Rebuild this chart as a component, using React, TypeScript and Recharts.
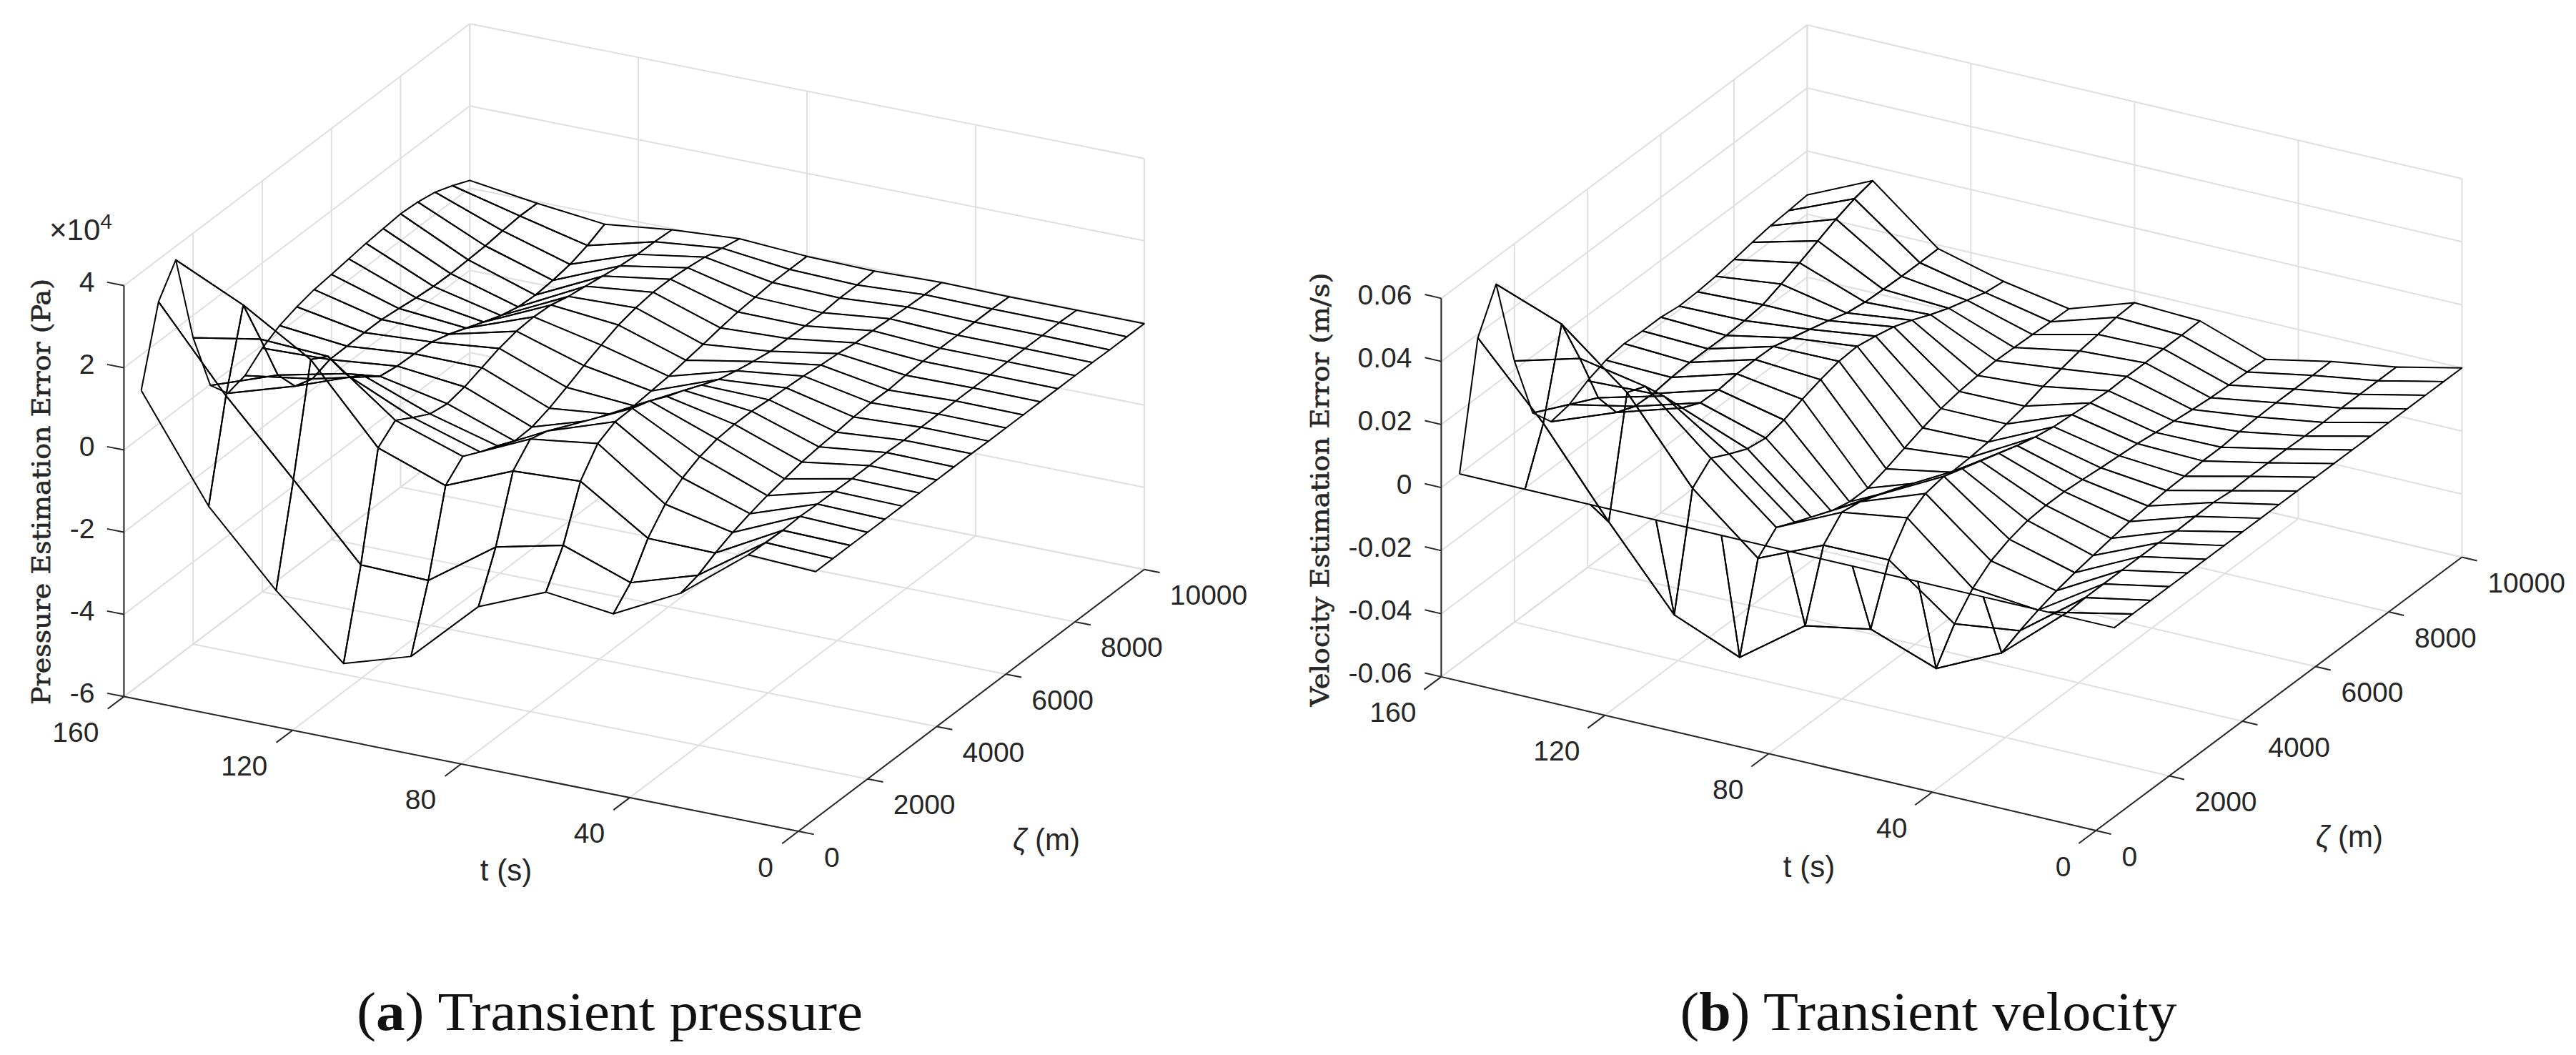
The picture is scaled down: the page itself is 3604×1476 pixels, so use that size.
import { ScatterChart, Scatter, XAxis, YAxis } from "recharts";

const tValues = [160, 144, 128, 112, 96, 80, 64, 48, 32, 16, 0];
const zetaValues = [500, 1000, 1500, 2000, 2500, 3000, 3500, 4000, 4500, 5000, 5500, 6000, 6500, 7000, 7500, 8000, 8500, 9000, 9500, 10000];
const tTicks = [160, 120, 80, 40, 0];
const zetaTicks = [0, 2000, 4000, 6000, 8000, 10000];
const pressureTicks = [-6, -4, -2, 0, 2, 4];
const velocityTicks = [-0.06, -0.04, -0.02, 0, 0.02, 0.04, 0.06];

// pressure error, x10^4 Pa, one list per t value, zeta ascending
const pressureT160 = [1.13, 2.97, 3.67, 1.46, -0.02, -0.53, -0.42, -0.07, 0.16, 0.3, 0.4, 0.45, 0.51, 0.57, 0.61, 0.65, 0.62, 0.54, 0.38, 0.19];
const pressureT144 = [-1.36, 1.01, 2.9, 1.75, 0.56, -0.03, -0.17, -0.02, -0.01, 0, 0, -0.05, -0.11, -0.15, -0.16, -0.14, -0.12, -0.07, -0.03, -0.04];
const pressureT128 = [-3.08, -0.7, 1.9, 1.66, 0.92, 0.57, 0.22, 0.15, 0.13, 0.1, -0.03, -0.2, -0.37, -0.53, -0.64, -0.67, -0.63, -0.56, -0.42, -0.22];
const pressureT112 = [-4.53, -2.45, 0.08, 0.43, 0.18, -0.05, -0.12, -0.03, 0.12, 0.27, 0.37, 0.4, 0.37, 0.26, 0.19, 0.12, 0.05, 0.01, 0, -0.03];
const pressureT96 = [-4.03, -2.5, -0.51, -0.12, -0.33, -0.5, -0.7, -0.68, -0.54, -0.35, -0.14, 0.04, 0.21, 0.31, 0.37, 0.37, 0.33, 0.27, 0.17, 0.08];
const pressureT80 = [-2.49, -1.36, 0.17, 0.63, 0.51, 0.3, 0.07, -0.17, -0.37, -0.47, -0.43, -0.39, -0.32, -0.25, -0.17, -0.1, -0.06, -0.02, -0.02, -0.02];
const pressureT64 = [-1.81, -0.99, 0.25, 0.85, 1.06, 1.07, 0.93, 0.72, 0.55, 0.36, 0.18, 0.07, -0.02, -0.09, -0.1, -0.11, -0.11, -0.07, -0.07, -0.05];
const pressureT48 = [-2.01, -1.57, -0.81, -0.3, 0.02, 0.22, 0.33, 0.37, 0.37, 0.33, 0.3, 0.27, 0.22, 0.18, 0.12, 0.1, 0.07, 0.04, 0.02, 0];
const pressureT32 = [-1.18, -1.06, -0.84, -0.66, -0.52, -0.4, -0.31, -0.22, -0.17, -0.13, -0.08, -0.05, -0.06, -0.02, 0, 0, 0, 0, 0, -0.02];
const pressureT16 = [0.08, 0.06, 0.04, 0.06, 0.04, 0.03, 0.02, 0.02, 0.02, 0, 0, 0, 0, 0, 0, 0, 0, 0, 0, -0.02];
const pressureT0 = [0, 0, 0, 0, 0, 0, 0, 0, 0, 0, -0.01, -0.01, -0.01, -0.01, -0.01, -0.01, -0.01, -0.02, -0.02, -0.02];

// velocity error, m/s
const velocityT160 = [0, 0.0388, 0.0515, 0.0228, 0.002, -0.0051, -0.004, -0.0008, 0.0014, 0.0023, 0.002, 0.002, 0.0012, 0.0014, 0.002, 0.003, 0.0041, 0.005, 0.0055, 0.0061];
const velocityT144 = [0, 0.0166, 0.0437, 0.0285, 0.0117, 0.0027, 0.0003, 0, 0.0008, 0.0012, 0.0012, 0.0011, 0.0015, 0.0022, 0.0044, 0.0068, 0.0094, 0.012, 0.0141, 0.0155];
const velocityT128 = [0, -0.0098, 0.0269, 0.0245, 0.0171, 0.009, 0.0063, 0.0061, 0.0068, 0.007, 0.0068, 0.0052, 0.0036, 0.002, 0.0001, -0.0008, -0.0011, -0.0013, -0.0013, -0.0012];
const velocityT112 = [0, -0.0344, 0.0014, 0.0066, 0.0036, 0.0009, 0, 0.0014, 0.0036, 0.0055, 0.007, 0.0074, 0.0063, 0.0049, 0.0027, 0.0001, -0.0022, -0.004, -0.0059, -0.0067];
const velocityT96 = [0, -0.043, -0.0159, -0.0105, -0.0132, -0.0165, -0.0183, -0.0197, -0.0197, -0.0179, -0.0157, -0.0136, -0.0118, -0.0107, -0.01, -0.0096, -0.0098, -0.01, -0.0103, -0.0105];
const velocityT80 = [0, -0.0281, -0.0069, -0.0008, -0.0018, -0.004, -0.0062, -0.0096, -0.0127, -0.0141, -0.0138, -0.0132, -0.0118, -0.0105, -0.0086, -0.0073, -0.006, -0.0051, -0.004, -0.0037];
const velocityT64 = [0, -0.0243, -0.0067, 0.0023, 0.0057, 0.0068, 0.0049, 0.003, 0.0011, -0.0008, -0.0024, -0.0035, -0.004, -0.0046, -0.0051, -0.0049, -0.0049, -0.0048, -0.0048, -0.0046];
const velocityT48 = [0, -0.0319, -0.0221, -0.0152, -0.0108, -0.0083, -0.0067, -0.0062, -0.0062, -0.0067, -0.0073, -0.0078, -0.0083, -0.0091, -0.0098, -0.0105, -0.0111, -0.0114, -0.0116, -0.0119];
const velocityT32 = [0, -0.0221, -0.0194, -0.0172, -0.0154, -0.014, -0.0129, -0.0118, -0.0108, -0.0102, -0.0096, -0.0094, -0.0089, -0.0089, -0.0083, -0.008, -0.0078, -0.0078, -0.0078, -0.0077];
const velocityT16 = [0, -0.0044, -0.004, -0.004, -0.004, -0.004, -0.004, -0.0045, -0.0043, -0.0042, -0.0048, -0.0046, -0.0046, -0.0046, -0.0048, -0.0048, -0.0046, -0.0046, -0.0046, -0.0046];
const velocityT0 = [0, 0, 0, 0, 0, 0, 0, 0, 0, 0, 0, 0, 0, 0, 0, 0, 0, 0, 0, 0];

const pressureRows = [pressureT160, pressureT144, pressureT128, pressureT112, pressureT96, pressureT80, pressureT64, pressureT48, pressureT32, pressureT16, pressureT0];
const velocityRows = [velocityT160, velocityT144, velocityT128, velocityT112, velocityT96, velocityT80, velocityT64, velocityT48, velocityT32, velocityT16, velocityT0];

const W = 3604;
const H = 1476;
const TICK_FONT = "'Liberation Sans', sans-serif";
const INK = "#262626";
const GRID = "#dfdfdf";

// orthographic view of each MATLAB box, in page pixels
const leftView = {
  origin: [1117, 1163], tVec: [-943.6, -188.4], zetaVec: [483.8, -366.3], zSpan: 575,
  zMin: -6, zMax: 4, zTicks: pressureTicks, rows: pressureRows,
  zFormat: (v: number) => String(v), zLabel: "Pressure Estimation Error (Pa)", zLabelAt: [57, 688], zLabelLen: 596,
  tLabelAt: [708, 1217], zetaLabelAt: [1464, 1174], titleAt: [853, 1441], titleLen: 708, tag: "a", title: " Transient pressure",
};
const rightView = {
  origin: [2932.4, 1162], tVec: [-916, -215.1], zetaVec: [512, -382.5], zSpan: 529.5,
  zMin: -0.06, zMax: 0.06, zTicks: velocityTicks, rows: velocityRows,
  zFormat: (v: number) => (v === 0 ? "0" : v.toFixed(2)), zLabel: "Velocity Estimation Error (m/s)", zLabelAt: [1846, 685], zLabelLen: 607,
  tLabelAt: [2531, 1212], zetaLabelAt: [3287, 1170], titleAt: [2698, 1441], titleLen: 695, tag: "b", title: " Transient velocity",
};

type View = typeof leftView;

function project(view: View, t: number, zeta: number, z: number) {
  const a = t / 160;
  const b = zeta / 10000;
  const c = (z - view.zMin) / (view.zMax - view.zMin);
  return {
    x: view.origin[0] + a * view.tVec[0] + b * view.zetaVec[0],
    y: view.origin[1] + a * view.tVec[1] + b * view.zetaVec[1] - c * view.zSpan,
  };
}

const NoMark = () => null;

function TextMark(props: any) {
  const { cx, cy, payload } = props;
  const { text, anchor, size, family, color, rotate, length, weight } = payload;
  return (
    <text
      x={cx}
      y={cy}
      textAnchor={anchor || "middle"}
      dominantBaseline={payload.baseline || "central"}
      fontSize={size}
      fontFamily={family || TICK_FONT}
      fontWeight={weight}
      fill={color || INK}
      stroke={payload.outline ? color || INK : undefined}
      strokeWidth={payload.outline}
      transform={rotate ? `rotate(${rotate} ${cx} ${cy})` : undefined}
      textLength={length}
      lengthAdjust={length ? "spacingAndGlyphs" : undefined}
    >
      {payload.parts
        ? payload.parts.map((p: any, i: number) => (
            <tspan key={i} fontWeight={p.weight} fontStyle={p.italic ? "italic" : undefined} fontFamily={p.family} fontSize={p.size} dy={p.dy}>
              {p.text}
            </tspan>
          ))
        : text}
    </text>
  );
}

function segment(key: string, a: any, b: any, stroke: string) {
  return (
    <Scatter
      key={key}
      data={[a, b]}
      shape={NoMark}
      line={{ stroke, strokeWidth: 2, fill: "none" }}
      isAnimationActive={false}
      legendType="none"
    />
  );
}

function gridLines(view: View, id: string) {
  const out: any[] = [];
  const { zMin, zMax } = view;
  tTicks.forEach((t) => {
    out.push(segment(`${id}-ft${t}`, project(view, t, 0, zMin), project(view, t, 10000, zMin), GRID));
    out.push(segment(`${id}-wt${t}`, project(view, t, 10000, zMin), project(view, t, 10000, zMax), GRID));
  });
  zetaTicks.forEach((zeta) => {
    out.push(segment(`${id}-fz${zeta}`, project(view, 0, zeta, zMin), project(view, 160, zeta, zMin), GRID));
    out.push(segment(`${id}-wz${zeta}`, project(view, 160, zeta, zMin), project(view, 160, zeta, zMax), GRID));
  });
  view.zTicks.forEach((z) => {
    out.push(segment(`${id}-hz${z}`, project(view, 160, 0, z), project(view, 160, 10000, z), GRID));
    out.push(segment(`${id}-hx${z}`, project(view, 160, 10000, z), project(view, 0, 10000, z), GRID));
  });
  return out;
}

function frame(view: View, id: string) {
  const out: any[] = [];
  const { zMin, zMax } = view;
  out.push(segment(`${id}-az`, project(view, 160, 0, zMin), project(view, 160, 0, zMax), INK));
  out.push(segment(`${id}-at`, project(view, 160, 0, zMin), project(view, 0, 0, zMin), INK));
  out.push(segment(`${id}-ax`, project(view, 0, 0, zMin), project(view, 0, 10000, zMin), INK));
  view.zTicks.forEach((z) => out.push(segment(`${id}-tz${z}`, project(view, 160, 0, z), project(view, 164, 0, z), INK)));
  tTicks.forEach((t) => out.push(segment(`${id}-tt${t}`, project(view, t, 0, zMin), project(view, t, -470, zMin), INK)));
  zetaTicks.forEach((zeta) => out.push(segment(`${id}-tx${zeta}`, project(view, 0, zeta, zMin), project(view, -3.7, zeta, zMin), INK)));
  return out;
}

// the source figure only hides behind its flatter faces, the steep front and left ones stay see-through
const isOpenFace = (k: number, j: number) => k <= 2 || j <= 1;

// back to front so the white faces hide what lies behind them
function mesh(view: View, id: string) {
  const out: any[] = [];
  for (let k = 0; k < tValues.length - 1; k++) {
    for (let j = zetaValues.length - 2; j >= 0; j--) {
      const corner = (a: number, b: number) => project(view, tValues[a], zetaValues[b], view.rows[a][b]);
      const first = corner(k, j);
      out.push(
        <Scatter
          key={`${id}-q${k}-${j}`}
          data={[first, corner(k, j + 1), corner(k + 1, j + 1), corner(k + 1, j), first]}
          shape={NoMark}
          line={{ stroke: "#000", strokeWidth: 2, fill: isOpenFace(k, j) ? "none" : "#fff", strokeLinejoin: "round" }}
          isAnimationActive={false}
          legendType="none"
        />
      );
    }
  }
  return out;
}

function labels(view: View) {
  const { zMin } = view;
  const marks: any[] = [];
  view.zTicks.forEach((z) => {
    const p = project(view, 160, 0, z);
    marks.push({ x: p.x - 41, y: p.y - 5, text: view.zFormat(z), anchor: "end", size: 39 });
  });
  tTicks.forEach((t) => {
    const p = project(view, t, 0, zMin);
    marks.push({ x: p.x - 35, y: p.y + 50, text: String(t), anchor: "end", size: 39 });
  });
  zetaTicks.forEach((zeta) => {
    const p = project(view, 0, zeta, zMin);
    marks.push({ x: p.x + 36, y: p.y + 36, text: String(zeta), anchor: "start", size: 39 });
  });
  marks.push({ x: view.zLabelAt[0], y: view.zLabelAt[1], text: view.zLabel, size: 36, family: "'DejaVu Serif', serif", rotate: -90, length: view.zLabelLen, outline: 0.6 });
  marks.push({ x: view.tLabelAt[0], y: view.tLabelAt[1], text: "t (s)", size: 42 });
  marks.push({ x: view.zetaLabelAt[0], y: view.zetaLabelAt[1], size: 42, parts: [{ text: "ζ", italic: true }, { text: " (m)" }] });
  marks.push({
    x: view.titleAt[0], y: view.titleAt[1], size: 76, color: "#111", family: "'Liberation Serif', serif", baseline: "auto", length: view.titleLen,
    parts: [{ text: "(" }, { text: view.tag, weight: "bold" }, { text: ")" + view.title }],
  });
  return marks;
}

const exponentMark = [{ x: 69, y: 336, size: 42, anchor: "start", baseline: "auto", parts: [{ text: "×10" }, { text: "4", size: 30, dy: -16 }] }];

export default function App() {
  return (
    <div style={{ position: "absolute", left: 0, top: 0, width: W, height: H, background: "#fff" }}>
      <ScatterChart width={W} height={H} margin={{ top: 0, right: 0, bottom: 0, left: 0 }}>
        <XAxis type="number" dataKey="x" domain={[0, W]} hide />
        <YAxis type="number" dataKey="y" domain={[0, H]} reversed hide />
        {gridLines(leftView, "l")}
        {gridLines(rightView as View, "r")}
        {frame(leftView, "l")}
        {frame(rightView as View, "r")}
        {mesh(leftView, "l")}
        {mesh(rightView as View, "r")}
        <Scatter data={labels(leftView)} shape={TextMark} isAnimationActive={false} legendType="none" />
        <Scatter data={labels(rightView as View)} shape={TextMark} isAnimationActive={false} legendType="none" />
        <Scatter data={exponentMark} shape={TextMark} isAnimationActive={false} legendType="none" />
      </ScatterChart>
    </div>
  );
}
